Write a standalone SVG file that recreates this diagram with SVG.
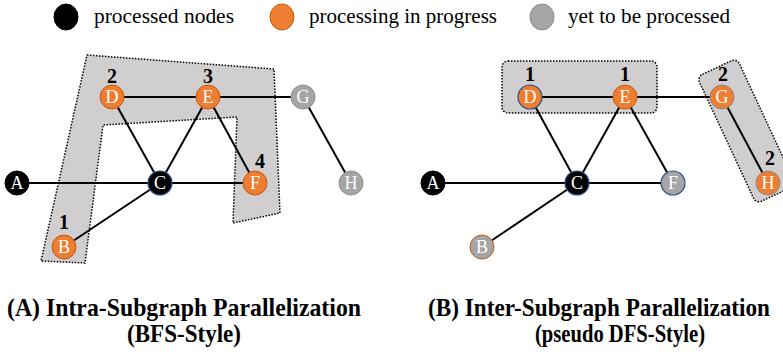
<svg xmlns="http://www.w3.org/2000/svg" width="783" height="352" viewBox="0 0 783 352">
<style>
.shade{fill:#D0CECE;stroke:#000;stroke-width:1.5;stroke-dasharray:1.5 1.5}
.edge{stroke:#000;stroke-width:2;fill:none}
.nb{fill:#000;stroke:#000;stroke-width:1}
.no{fill:#ED7D31;stroke:#C55A11;stroke-width:1}
.ng{fill:#A5A5A5;stroke:#8C8C8C;stroke-width:1}
.sb{stroke:#2F528F;stroke-width:1.2}
.sgr{stroke:#8C8C8C}
.sor{stroke:#C55A11}
.nt{font-size:18px;fill:#fff;text-anchor:middle}
.num{font-size:20px;font-weight:bold;fill:#000;text-anchor:middle}
.leg{font-size:20px;fill:#000}
.ttl{font-size:25px;font-weight:bold;fill:#000}
</style>

<g id="legend" font-family="'Liberation Serif', 'Times New Roman', 'DejaVu Serif', serif">
<ellipse cx="66" cy="17" rx="12" ry="13" class="nb"/>
<text x="94" y="23" class="leg" textLength="140" lengthAdjust="spacingAndGlyphs">processed nodes</text>
<ellipse cx="282" cy="17" rx="12" ry="13" class="no"/>
<text x="309" y="23" class="leg" textLength="188" lengthAdjust="spacingAndGlyphs">processing in progress</text>
<ellipse cx="542" cy="17" rx="12" ry="13" class="ng"/>
<text x="568" y="23" class="leg" textLength="162" lengthAdjust="spacingAndGlyphs">yet to be processed</text>
</g>

<g id="groups">
<polygon class="shade" points="87,55 274,69 280,213 233,223 237,117 103,125 85,263 41,261"/>
<rect class="shade" x="502" y="61" width="155" height="52" rx="6"/>
<rect class="shade" x="-22" y="-70" width="44" height="140" rx="6" transform="translate(746.5,131) rotate(-25)"/>
</g>

<g id="connectors">
<line class="edge" x1="17" y1="183" x2="255" y2="183"/>
<line class="edge" x1="112" y1="97" x2="303" y2="97"/>
<line class="edge" x1="112" y1="97" x2="160" y2="183"/>
<line class="edge" x1="208" y1="97" x2="160" y2="183"/>
<line class="edge" x1="208" y1="97" x2="255" y2="183"/>
<line class="edge" x1="64" y1="247" x2="160" y2="183"/>
<line class="edge" x1="303" y1="97" x2="351" y2="183"/>
<line class="edge" x1="433" y1="183" x2="673" y2="183"/>
<line class="edge" x1="530" y1="97" x2="722" y2="97"/>
<line class="edge" x1="530" y1="97" x2="577" y2="183"/>
<line class="edge" x1="625" y1="97" x2="577" y2="183"/>
<line class="edge" x1="625" y1="97" x2="673" y2="183"/>
<line class="edge" x1="482" y1="247" x2="577" y2="183"/>
<line class="edge" x1="722" y1="97" x2="768" y2="183"/>
</g>

<g id="nodes" font-family="'Liberation Serif', 'Times New Roman', 'DejaVu Serif', serif">
<g id="A1"><circle cx="17" cy="183" r="12" class="nb"/><text x="17" y="189" class="nt">A</text></g>
<g id="B1"><circle cx="64" cy="247" r="12" class="no"/><text x="64" y="253" class="nt">B</text><text x="64" y="229" class="num">1</text></g>
<g id="C1"><circle cx="160" cy="183" r="12" class="nb sb"/><text x="160" y="189" class="nt">C</text></g>
<g id="D1"><circle cx="112" cy="97" r="12" class="no"/><text x="112" y="103" class="nt">D</text><text x="112" y="83" class="num">2</text></g>
<g id="E1"><circle cx="208" cy="97" r="12" class="no"/><text x="208" y="103" class="nt">E</text><text x="208" y="83" class="num">3</text></g>
<g id="F1"><circle cx="255" cy="183" r="12" class="no"/><text x="255" y="189" class="nt">F</text><text x="260" y="168" class="num">4</text></g>
<g id="G1"><circle cx="303" cy="97" r="12" class="ng"/><text x="303" y="103" class="nt">G</text></g>
<g id="H1"><circle cx="351" cy="183" r="12" class="ng"/><text x="351" y="189" class="nt">H</text></g>

<g id="A2"><circle cx="433" cy="183" r="12" class="nb"/><text x="433" y="189" class="nt">A</text></g>
<g id="B2"><circle cx="482" cy="247" r="12" class="ng sor"/><text x="482" y="253" class="nt">B</text></g>
<g id="C2"><circle cx="577" cy="183" r="12" class="nb sb"/><text x="577" y="189" class="nt">C</text></g>
<g id="D2"><circle cx="530" cy="97" r="12" class="no sb"/><text x="530" y="103" class="nt">D</text><text x="530" y="81" class="num">1</text></g>
<g id="E2"><circle cx="625" cy="97" r="12" class="no"/><text x="625" y="103" class="nt">E</text><text x="625" y="81" class="num">1</text></g>
<g id="F2"><circle cx="673" cy="183" r="12" class="ng sb"/><text x="673" y="189" class="nt">F</text></g>
<g id="G2"><circle cx="722" cy="97" r="12" class="no sgr"/><text x="722" y="103" class="nt">G</text><text x="723" y="81" class="num">2</text></g>
<g id="H2"><circle cx="768" cy="183" r="12" class="no sgr"/><text x="768" y="189" class="nt">H</text><text x="770" y="165" class="num">2</text></g>
</g>

<g id="titles" font-family="'Liberation Serif', 'Times New Roman', 'DejaVu Serif', serif">
<text x="7" y="316" class="ttl" textLength="354" lengthAdjust="spacingAndGlyphs">(A) Intra-Subgraph Parallelization</text>
<text x="127" y="342" class="ttl" textLength="114" lengthAdjust="spacingAndGlyphs">(BFS-Style)</text>
<text x="0" y="0" class="ttl" style="font-size:22px" transform="translate(428,316) scale(1,1.13)" textLength="342" lengthAdjust="spacingAndGlyphs">(B) Inter-Subgraph Parallelization</text>
<text x="535" y="342" class="ttl" textLength="170" lengthAdjust="spacingAndGlyphs">(pseudo DFS-Style)</text>
</g>
</svg>
